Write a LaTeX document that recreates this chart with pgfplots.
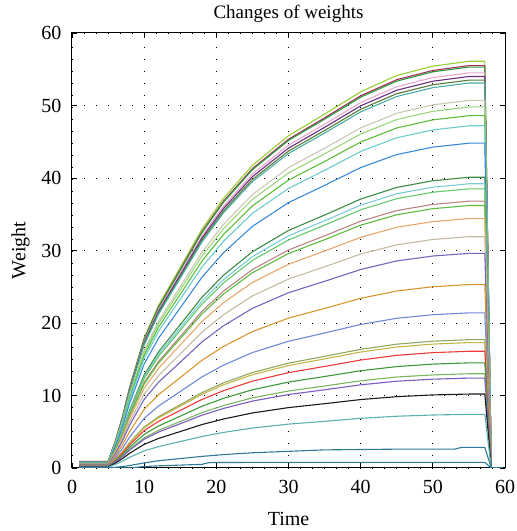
\documentclass[border=0pt]{standalone}
\usepackage{pgfplots}
\pgfplotsset{compat=1.18}
\usepackage{fontspec}
\setmainfont{Liberation Serif}
\definecolor{c1}{HTML}{9ACD32}
\definecolor{c2}{HTML}{A2285A}
\definecolor{c3}{HTML}{2E9E3E}
\definecolor{c4}{HTML}{E8A8D0}
\definecolor{c5}{HTML}{6B2C7E}
\definecolor{c6}{HTML}{5A7A3A}
\definecolor{c7}{HTML}{48B0A0}
\definecolor{c8}{HTML}{C9C9B5}
\definecolor{c9}{HTML}{9CD67C}
\definecolor{c10}{HTML}{5CBF3A}
\definecolor{c11}{HTML}{6CCBCB}
\definecolor{c12}{HTML}{3A8AD8}
\definecolor{c13}{HTML}{3D8B45}
\definecolor{c14}{HTML}{7CCCD6}
\definecolor{c15}{HTML}{64C86A}
\definecolor{c16}{HTML}{B98585}
\definecolor{c17}{HTML}{5DBB3D}
\definecolor{c18}{HTML}{E5A86A}
\definecolor{c19}{HTML}{C4BBA0}
\definecolor{c20}{HTML}{7465C0}
\definecolor{c21}{HTML}{D9952E}
\definecolor{c22}{HTML}{7088D8}
\definecolor{c23}{HTML}{8FA860}
\definecolor{c24}{HTML}{C2B645}
\definecolor{c25}{HTML}{F03A3A}
\definecolor{c26}{HTML}{3A9A3A}
\definecolor{c27}{HTML}{7BB560}
\definecolor{c28}{HTML}{7A5CC0}
\definecolor{c29}{HTML}{1A1A1A}
\definecolor{c30}{HTML}{5AAFB0}
\definecolor{c31}{HTML}{2F7A98}
\definecolor{c32}{HTML}{2F7A98}
\begin{document}
\begin{tikzpicture}
\begin{axis}[
  name=ax,
  scale only axis,
  width=433pt, height=435pt,
  xmin=0, xmax=60, ymin=0, ymax=60,
  xtick={0,10,...,60}, ytick={0,10,...,60},
  tick align=inside,
  major tick length=5pt,
  tick style={black, line width=0.8pt},
  axis line style={black, line width=1pt},
  grid=major,
  major grid style={black, line width=0.9pt, dash pattern=on 1pt off 11pt},
  /pgf/number format/assume math mode=true,
  ticklabel style={font=\fontsize{20}{24}\selectfont},
  label style={font=\fontsize{20}{24}\selectfont},
  title style={font=\fontsize{19}{23}\selectfont, yshift=1pt},
  title={Changes of weights},
  xlabel={Time},
  ylabel={Weight},
  xticklabel style={yshift=-9pt},
  yticklabel style={xshift=-7pt},
  xlabel style={yshift=-11pt},
  ylabel style={yshift=5pt},
  every axis plot/.append style={line width=1.1pt, line join=round},
]
\addplot[c1] coordinates {(1,0.9)(5,0.9)(6,3.70)(7,7.12)(8,11.22)(10,17.95)(12,22.44)(15,27.66)(18,32.93)(21,37.19)(25,41.74)(30,45.83)(35,48.81)(40,51.89)(45,54.14)(50,55.43)(55,56.1)(57.2,56.1)(58.1,0)(59.7,0)};
\addplot[c2] coordinates {(1,0.9)(5,0.9)(6,3.66)(7,7.05)(8,11.10)(10,17.76)(12,22.20)(15,27.36)(18,32.58)(21,36.80)(25,41.29)(30,45.34)(35,48.29)(40,51.34)(45,53.56)(50,54.83)(55,55.5)(57.2,55.5)(58.1,0)(59.7,0)};
\addplot[c3] coordinates {(1,0.85)(5,0.85)(6,3.65)(7,7.02)(8,11.06)(10,17.70)(12,22.12)(15,27.26)(18,32.46)(21,36.66)(25,41.14)(30,45.18)(35,48.11)(40,51.15)(45,53.36)(50,54.64)(55,55.3)(57.2,55.3)(58.1,0)(59.7,0)};
\addplot[c4] coordinates {(1,0.85)(5,0.85)(6,3.60)(7,6.92)(8,10.90)(10,17.44)(12,21.80)(15,26.87)(18,31.99)(21,36.13)(25,40.55)(30,44.53)(35,47.42)(40,50.41)(45,52.59)(50,53.85)(55,54.5)(57.2,54.5)(58.1,0)(59.7,0)};
\addplot[c5] coordinates {(1,0.8)(5,0.8)(6,3.56)(7,6.86)(8,10.80)(10,17.28)(12,21.60)(15,26.62)(18,31.70)(21,35.80)(25,40.18)(30,44.12)(35,46.98)(40,49.95)(45,52.11)(50,53.35)(55,54.0)(57.2,54.0)(58.1,0)(59.7,0)};
\addplot[c6] coordinates {(1,0.8)(5,0.8)(6,3.53)(7,6.79)(8,10.70)(10,17.12)(12,21.40)(15,26.38)(18,31.40)(21,35.47)(25,39.80)(30,43.71)(35,46.55)(40,49.49)(45,51.63)(50,52.86)(55,53.5)(57.2,53.5)(58.1,0)(59.7,0)};
\addplot[c7] coordinates {(1,0.8)(5,0.8)(6,3.50)(7,6.74)(8,10.62)(10,16.99)(12,21.24)(15,26.18)(18,31.17)(21,35.21)(25,39.51)(30,43.38)(35,46.20)(40,49.12)(45,51.24)(50,52.46)(55,53.1)(57.2,53.1)(58.1,0)(59.7,0)};
\addplot[c8] coordinates {(1,0.75)(5,0.75)(6,3.35)(7,6.44)(8,10.14)(10,16.22)(12,20.28)(15,25.00)(18,29.76)(21,33.61)(25,37.72)(30,41.42)(35,44.11)(40,46.90)(45,48.93)(50,50.09)(55,50.7)(57.2,50.7)(58.1,0)(59.7,0)};
\addplot[c9] coordinates {(1,0.75)(5,0.75)(6,3.29)(7,6.32)(8,9.96)(10,15.94)(12,19.92)(15,24.55)(18,29.23)(21,33.02)(25,37.05)(30,40.69)(35,43.33)(40,46.07)(45,48.06)(50,49.20)(55,49.8)(57.2,49.8)(58.1,0)(59.7,0)};
\addplot[c10] coordinates {(1,0.7)(5,0.7)(6,3.21)(7,6.17)(8,9.72)(10,15.55)(12,19.44)(15,23.96)(18,28.53)(21,32.22)(25,36.16)(30,39.71)(35,42.28)(40,44.96)(45,46.90)(50,48.02)(55,48.6)(57.2,48.6)(58.1,0)(59.7,0)};
\addplot[c11] coordinates {(1,0.7)(5,0.7)(6,3.12)(7,5.99)(8,9.44)(10,15.10)(12,18.88)(15,23.27)(18,27.71)(21,31.29)(25,35.12)(30,38.56)(35,41.06)(40,43.66)(45,45.55)(50,46.63)(55,47.2)(57.2,47.2)(58.1,0)(59.7,0)};
\addplot[c12] coordinates {(1,0.65)(5,0.65)(6,2.96)(7,5.69)(8,8.96)(10,14.34)(12,17.92)(15,22.09)(18,26.30)(21,29.70)(25,33.33)(30,36.60)(35,38.98)(40,41.44)(45,43.23)(50,44.26)(55,44.8)(57.2,44.8)(58.1,0)(59.7,0)};
\addplot[c13] coordinates {(1,0.6)(5,0.6)(6,2.65)(7,5.09)(8,8.02)(10,12.83)(12,16.04)(15,19.77)(18,23.54)(21,26.59)(25,29.83)(30,32.76)(35,34.89)(40,37.09)(45,38.70)(50,39.62)(55,40.1)(57.2,40.1)(58.1,0)(59.7,0)};
\addplot[c14] coordinates {(1,0.6)(5,0.6)(6,2.59)(7,4.98)(8,7.84)(10,12.54)(12,15.68)(15,19.33)(18,23.01)(21,25.99)(25,29.16)(30,32.03)(35,34.10)(40,36.26)(45,37.83)(50,38.73)(55,39.2)(57.2,39.2)(58.1,0)(59.7,0)};
\addplot[c15] coordinates {(1,0.55)(5,0.55)(6,2.54)(7,4.89)(8,7.70)(10,12.32)(12,15.40)(15,18.98)(18,22.60)(21,25.53)(25,28.64)(30,31.45)(35,33.50)(40,35.61)(45,37.15)(50,38.04)(55,38.5)(57.2,38.5)(58.1,0)(59.7,0)};
\addplot[c16] coordinates {(1,0.55)(5,0.55)(6,2.43)(7,4.67)(8,7.36)(10,11.78)(12,14.72)(15,18.14)(18,21.60)(21,24.40)(25,27.38)(30,30.07)(35,32.02)(40,34.04)(45,35.51)(50,36.36)(55,36.8)(57.2,36.8)(58.1,0)(59.7,0)};
\addplot[c17] coordinates {(1,0.5)(5,0.5)(6,2.39)(7,4.60)(8,7.24)(10,11.58)(12,14.48)(15,17.85)(18,21.25)(21,24.00)(25,26.93)(30,29.58)(35,31.49)(40,33.49)(45,34.93)(50,35.77)(55,36.2)(57.2,36.2)(58.1,0)(59.7,0)};
\addplot[c18] coordinates {(1,0.5)(5,0.5)(6,2.27)(7,4.37)(8,6.88)(10,11.01)(12,13.76)(15,16.96)(18,20.19)(21,22.81)(25,25.59)(30,28.10)(35,29.93)(40,31.82)(45,33.20)(50,33.99)(55,34.4)(57.2,34.4)(58.1,0)(59.7,0)};
\addplot[c19] coordinates {(1,0.45)(5,0.45)(6,2.11)(7,4.05)(8,6.38)(10,10.21)(12,12.76)(15,15.73)(18,18.73)(21,21.15)(25,23.73)(30,26.06)(35,27.75)(40,29.51)(45,30.78)(50,31.52)(55,31.9)(57.2,31.9)(58.1,0)(59.7,0)};
\addplot[c20] coordinates {(1,0.45)(5,0.45)(6,1.95)(7,3.76)(8,5.92)(10,9.47)(12,11.84)(15,14.59)(18,17.38)(21,19.62)(25,22.02)(30,24.18)(35,25.75)(40,27.38)(45,28.56)(50,29.24)(55,29.6)(57.2,29.6)(58.1,0)(59.7,0)};
\addplot[c21] coordinates {(1,0.4)(5,0.4)(6,1.67)(7,3.21)(8,5.06)(10,8.10)(12,10.12)(15,12.47)(18,14.85)(21,16.77)(25,18.82)(30,20.67)(35,22.01)(40,23.40)(45,24.41)(50,25.00)(55,25.3)(57.2,25.3)(58.1,0)(59.7,0)};
\addplot[c22] coordinates {(1,0.35)(5,0.35)(6,1.41)(7,2.72)(8,4.28)(10,6.85)(12,8.56)(15,10.55)(18,12.56)(21,14.19)(25,15.92)(30,17.48)(35,18.62)(40,19.80)(45,20.65)(50,21.14)(55,21.4)(57.2,21.4)(58.1,0)(59.7,0)};
\addplot[c23] coordinates {(1,0.3)(5,0.3)(6,1.17)(7,2.25)(8,3.54)(10,5.66)(12,7.08)(15,8.73)(18,10.39)(21,11.74)(25,13.17)(30,14.46)(35,15.40)(40,16.37)(45,17.08)(50,17.49)(55,17.7)(57.2,17.7)(58.1,0)(59.7,0)};
\addplot[c24] coordinates {(1,0.3)(5,0.3)(6,1.14)(7,2.20)(8,3.46)(10,5.54)(12,6.92)(15,8.53)(18,10.16)(21,11.47)(25,12.87)(30,14.13)(35,15.05)(40,16.00)(45,16.69)(50,17.09)(55,17.3)(57.2,17.3)(58.1,0)(59.7,0)};
\addplot[c25] coordinates {(1,0.25)(5,0.25)(6,1.06)(7,2.04)(8,3.22)(10,5.15)(12,6.44)(15,7.94)(18,9.45)(21,10.67)(25,11.98)(30,13.15)(35,14.01)(40,14.89)(45,15.54)(50,15.91)(55,16.1)(57.2,16.1)(58.1,0)(59.7,0)};
\addplot[c26] coordinates {(1,0.25)(5,0.25)(6,0.96)(7,1.84)(8,2.90)(10,4.64)(12,5.80)(15,7.15)(18,8.51)(21,9.61)(25,10.79)(30,11.85)(35,12.62)(40,13.41)(45,13.99)(50,14.33)(55,14.5)(57.2,14.5)(58.1,0)(59.7,0)};
\addplot[c27] coordinates {(1,0.2)(5,0.2)(6,0.86)(7,1.65)(8,2.61)(10,4.16)(12,5.20)(15,6.41)(18,7.63)(21,8.62)(25,9.67)(30,10.62)(35,11.31)(40,12.03)(45,12.55)(50,12.84)(55,13.0)(57.2,13.0)(58.1,0)(59.7,0)};
\addplot[c28] coordinates {(1,0.2)(5,0.2)(6,0.82)(7,1.57)(8,2.48)(10,3.97)(12,4.96)(15,6.11)(18,7.28)(21,8.22)(25,9.23)(30,10.13)(35,10.79)(40,11.47)(45,11.97)(50,12.25)(55,12.4)(57.2,12.4)(58.1,0)(59.7,0)};
\addplot[c29] coordinates {(1,0.15)(5,0.15)(6,0.67)(7,1.30)(8,2.04)(10,3.26)(12,4.08)(15,5.03)(18,5.99)(21,6.76)(25,7.59)(30,8.33)(35,8.87)(40,9.44)(45,9.84)(50,10.08)(55,10.2)(57.2,10.2)(58.1,0)(59.7,0)};
\addplot[c30] coordinates {(1,0.1)(5,0.1)(6,0.49)(7,0.94)(8,1.48)(10,2.37)(12,2.95)(15,3.65)(18,4.34)(21,4.91)(25,5.51)(30,6.05)(35,6.44)(40,6.85)(45,7.14)(50,7.31)(55,7.4)(57.2,7.4)(58.1,0)(59.7,0)};
\addplot[c31] coordinates {(1,0)(5,0)(6,0.1)(7,0.2)(8,0.35)(10,0.7)(12,1.0)(15,1.3)(18,1.6)(21,1.85)(25,2.1)(30,2.3)(35,2.5)(40,2.55)(45,2.6)(50,2.6)(53,2.6)(54,2.85)(57.2,2.85)(58.1,0)(59.7,0)};
\addplot[c32] coordinates {(1,0)(5,0)(6,0)(8,0)(9,0.1)(10,0.2)(12,0.3)(15,0.4)(18,0.5)(19,0.75)(25,0.77)(30,0.78)(40,0.78)(50,0.78)(57.2,0.78)(58.1,0)(59.7,0)};
\end{axis}
\pgfresetboundingbox
\path[use as bounding box] ([xshift=-72pt,yshift=-63pt]ax.south west) rectangle ([xshift=11pt,yshift=33pt]ax.north east);
\end{tikzpicture}
\end{document}
